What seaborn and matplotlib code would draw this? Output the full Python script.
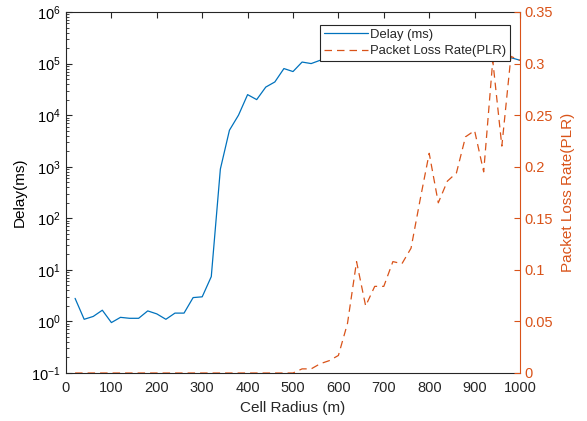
import numpy as np
import pandas as pd
import matplotlib
matplotlib.use('Agg')
import matplotlib.pyplot as plt
import seaborn as sns
from matplotlib.ticker import MultipleLocator, FixedLocator, NullFormatter

# 데이터
radius = list(range(20, 1001, 20))
delay_ms = [2.8, 1.1, 1.25, 1.65, 0.95, 1.2, 1.15, 1.15, 1.6, 1.4,
            1.1, 1.45, 1.45, 2.9, 3.0, 7.4, 900, 5100, 10000, 25000,
            20000, 35000, 44000, 80000, 70000, 107000, 100000, 116000, 118000, 122000,
            120000, 125000, 128000, 124000, 130000, 127000, 132000, 129000, 134000, 131000,
            135000, 132000, 136000, 133000, 137000, 134000, 138000, 135000, 130000, 116000]
plr = [0.0] * 25 + [0.004, 0.004, 0.009, 0.012, 0.017, 0.048, 0.108, 0.065, 0.084, 0.084,
                    0.108, 0.106, 0.121, 0.168, 0.213, 0.165, 0.186, 0.194, 0.229, 0.235,
                    0.195, 0.303, 0.22, 0.307, 0.303]

delay_ticks = [1e-1, 1e0, 1e1, 1e2, 1e3, 1e4, 1e5, 1e6]
delay_ticklabels = ['$10^{-1}$', '$10^{0}$', '$10^{1}$', '$10^{2}$', '$10^{3}$', '$10^{4}$', '$10^{5}$', '$10^{6}$']
plr_ticks = [0, 0.05, 0.1, 0.15, 0.2, 0.25, 0.3, 0.35]
plr_ticklabels = ['0', '0.05', '0.1', '0.15', '0.2', '0.25', '0.3', '0.35']

df = pd.DataFrame({'radius': radius, 'delay': delay_ms, 'plr': plr})

blue = '#0072BD'
orange = '#D95319'
grey = '#262626'

sns.set_style('white')
plt.rcParams['font.family'] = ['Liberation Sans', 'DejaVu Sans']
plt.rcParams['mathtext.fontset'] = 'custom'
plt.rcParams['mathtext.rm'] = 'Liberation Sans'
plt.rcParams['mathtext.it'] = 'Liberation Sans'
plt.rcParams['mathtext.bf'] = 'Liberation Sans'

fig = plt.figure(figsize=(5.87, 4.21), dpi=100)
ax = fig.add_axes([66 / 587, 48 / 421, 454 / 587, 361 / 421])
ax2 = ax.twinx()

sns.lineplot(data=df, x='radius', y='delay', ax=ax, color=blue, lw=0.9, label='Delay (ms)', legend=False)
sns.lineplot(data=df, x='radius', y='plr', ax=ax2, color=orange, lw=0.9, label='Packet Loss Rate(PLR)',
             legend=False)
ax2.lines[0].set_dashes([6, 4])

ax.set_yscale('log')
ax.set_ylim(1e-1, 1e6)
ax.set_xlim(0, 1000)
ax2.set_ylim(0, 0.35)

ax.xaxis.set_major_locator(MultipleLocator(100))
ax.set_yticks(delay_ticks)
ax.set_yticklabels(delay_ticklabels)
minor = [m * 10.0 ** e for e in range(-1, 6) for m in range(2, 10)]
ax.yaxis.set_minor_locator(FixedLocator(minor))
ax.yaxis.set_minor_formatter(NullFormatter())
ax2.set_yticks(plr_ticks)
ax2.set_yticklabels(plr_ticklabels)

ax.tick_params(axis='x', direction='in', top=True, length=4, width=0.8, colors=grey, labelsize=10.5, pad=6)
ax.tick_params(axis='y', which='major', direction='in', length=4, width=0.8, color=grey, labelcolor='black',
               labelsize=10.5, pad=4)
ax.tick_params(axis='y', which='minor', direction='in', length=2, width=0.6, color=grey)
ax2.tick_params(axis='y', direction='in', length=4, width=0.8, colors=orange, labelsize=10.5, pad=3)
ax2.yaxis.set_minor_locator(FixedLocator([]))

for side in ['left', 'bottom', 'top']:
    ax.spines[side].set_color(grey)
    ax.spines[side].set_linewidth(0.8)
for side in ['left', 'bottom', 'top']:
    ax2.spines[side].set_visible(False)
ax2.spines['right'].set_color(orange)
ax2.spines['right'].set_linewidth(0.8)
ax.spines['right'].set_visible(False)

ax.set_xlabel('Cell Radius (m)', fontsize=11, color=grey, labelpad=4)
ax.set_ylabel('Delay(ms)', fontsize=11, color='black', labelpad=3)
ax2.set_xlabel('')
ax2.set_ylabel('Packet Loss Rate(PLR)', fontsize=11, color=orange, labelpad=6)

h1, l1 = ax.get_legend_handles_labels()
h2, l2 = ax2.get_legend_handles_labels()
leg = ax2.legend(h1 + h2, l1 + l2, loc='upper left', bbox_to_anchor=(254 / 454, 1 - 13 / 361),
                 fontsize=9.4, frameon=True, fancybox=False, framealpha=1, edgecolor=grey,
                 handlelength=3.4, borderpad=0.3, labelspacing=0.3, handletextpad=0.1, borderaxespad=0)
leg.get_frame().set_linewidth(0.8)

fig.savefig('out.png', dpi=100)
